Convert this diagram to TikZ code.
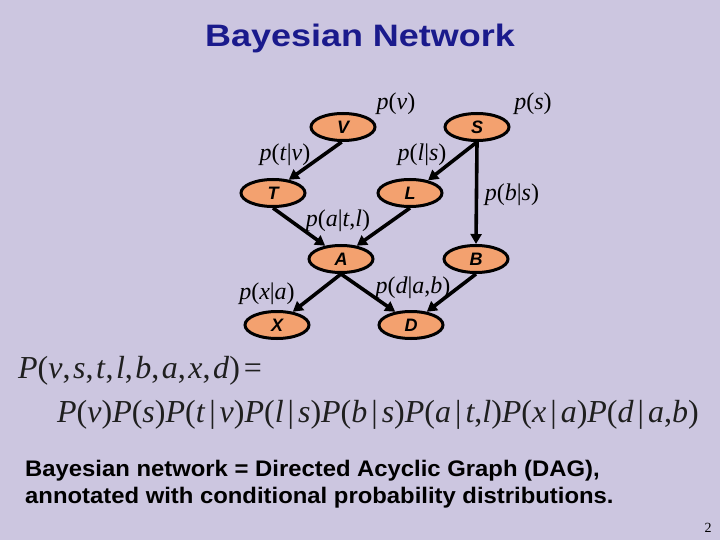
\documentclass[tikz,border=0pt]{standalone}
\usepackage{fontspec}
\setmainfont{Liberation Serif}
\newfontfamily\sansb{Liberation Sans}
\newfontfamily\sanstitle[FakeStretch=1.16]{Liberation Sans}
\newfontfamily\sansnote[FakeStretch=1.06]{Liberation Sans}
\usetikzlibrary{arrows.meta,shapes.geometric}
\definecolor{bg}{HTML}{CCC6E0}
\definecolor{nodefill}{HTML}{F3A16F}
\definecolor{titleblue}{HTML}{1A1A8C}
\newcommand{\iv}[1]{\textit{#1}}
\newcommand{\cm}{,\kern2.5pt}
\newcommand{\gv}{\kern4pt|\kern4pt}
\begin{document}
\begin{tikzpicture}[x=1pt,y=-1pt,
  var/.style={ellipse,draw=black,line width=3pt,fill=nodefill,minimum width=64pt,minimum height=27pt,inner sep=0pt,font=\sansb\bfseries\itshape\fontsize{18}{18}\selectfont},
  edge/.style={line width=3.6pt,-{Triangle[length=10pt,width=11pt]}},
  lbl/.style={font=\fontsize{24}{24}\selectfont,inner sep=0pt}]
\fill[bg] (0,0) rectangle (720,540);
\useasboundingbox (0,0) rectangle (720,540);
\node[anchor=base,inner sep=0pt,font=\sanstitle\bfseries\fontsize{31}{31}\selectfont,text=titleblue] (title) at (360,47) {Bayesian Network};
% nodes
\node[var] (V) at (343,127) {V};
\node[var] (S) at (477,127) {S};
\node[var] (T) at (273,193) {T};
\node[var] (L) at (410,193) {L};
\node[var] (A) at (341,259) {A};
\node[var] (B) at (476,259) {B};
\node[var] (X) at (277,325) {X};
\node[var] (D) at (411,325) {D};
% edges
\draw[edge] (V.-95) -- (T.40);
\draw[edge] (S.-90) -- (L.35);
\draw[edge] (S.-90) -- (B.north);
\draw[edge] (T.-90) -- (A.140);
\draw[edge] (L.-90) -- (A.40);
\draw[edge] (A.-90) -- (X.40);
\draw[edge] (A.-90) -- (D.140);
\draw[edge] (B.-90) -- (D.40);
% labels
\node[lbl] (lv) at (396,104) {\iv{p}(\iv{v})};
\node[lbl] (ls) at (533,104) {\iv{p}(\iv{s})};
\node[lbl] (ltv) at (285,155) {\iv{p}(\iv{t}|\iv{v})};
\node[lbl] (lls) at (422,155) {\iv{p}(\iv{l}|\iv{s})};
\node[lbl] (lbs) at (512,195) {\iv{p}(\iv{b}|\iv{s})};
\node[lbl] (latl) at (338,221) {\iv{p}(\iv{a}|\iv{t},\iv{l})};
\node[lbl] (lxa) at (267,294) {\iv{p}(\iv{x}|\iv{a})};
\node[lbl] (ldab) at (413,288) {\iv{p}(\iv{d}|\iv{a},\iv{b})};
% formula
\node[anchor=base west,inner sep=0pt,font=\fontsize{32}{32}\selectfont,text=black!88] (f1) at (18,378)
  {\iv{P}(\iv{v}\cm\iv{s}\cm\iv{t}\cm\iv{l}\cm\iv{b}\cm\iv{a}\cm\iv{x}\cm\iv{d})\kern4pt=};
\node[anchor=base west,inner sep=0pt,font=\fontsize{32}{32}\selectfont,text=black!88] (f2) at (57,422)
  {\iv{P}(\iv{v})\iv{P}(\iv{s})\iv{P}(\iv{t}\gv\iv{v})\iv{P}(\iv{l}\gv\iv{s})\iv{P}(\iv{b}\gv\iv{s})\iv{P}(\iv{a}\gv\iv{t},\iv{l})\iv{P}(\iv{x}\gv\iv{a})\iv{P}(\iv{d}\gv\iv{a},\iv{b})};
% bottom text
\node[anchor=base west,inner sep=0pt,font=\sansnote\bfseries\fontsize{22.5}{22.5}\selectfont] (note1) at (25,476)
  {Bayesian network = Directed Acyclic Graph (DAG),};
\node[anchor=base west,inner sep=0pt,font=\sansnote\bfseries\fontsize{22.5}{22.5}\selectfont] (note2) at (25,503)
  {annotated with conditional probability distributions.};
\node[inner sep=0pt,font=\fontsize{14}{14}\selectfont] (pg) at (708,528) {2};
\end{tikzpicture}
\end{document}
